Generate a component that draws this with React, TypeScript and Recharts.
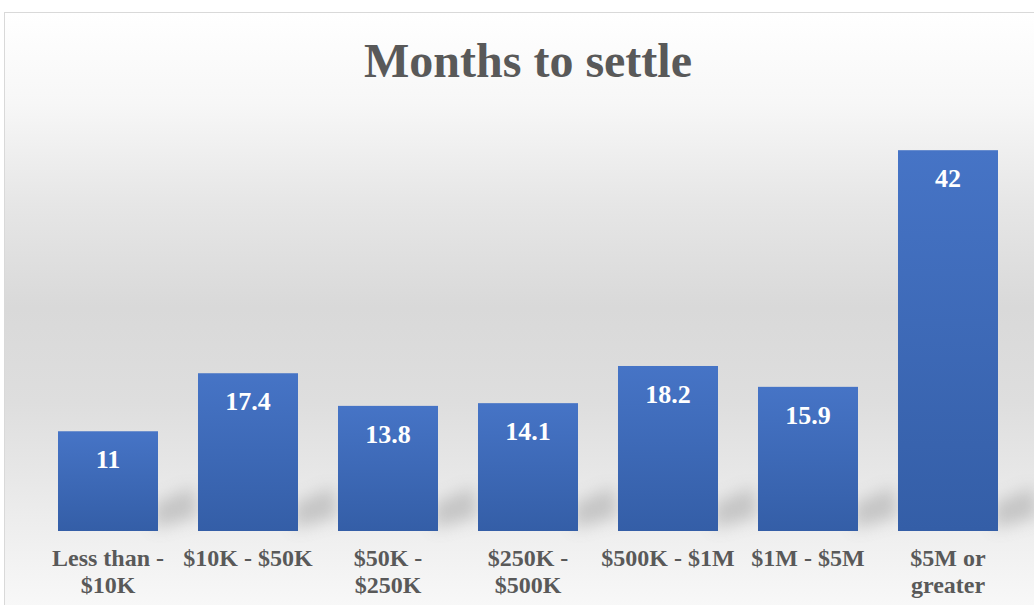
import { BarChart, Bar, XAxis, YAxis, LabelList } from 'recharts';

const categories = [
  'Less than -\n$10K',
  '$10K - $50K',
  '$50K -\n$250K',
  '$250K -\n$500K',
  '$500K - $1M',
  '$1M - $5M',
  '$5M or\ngreater',
];
const months = [11, 17.4, 13.8, 14.1, 18.2, 15.9, 42];

const data = categories.map((name, i) => ({ name, months: months[i] }));

const FONT = '"Liberation Serif", "Times New Roman", serif';

const BarWithShadow = (props: any) => {
  const { x, y, width, height } = props;
  const bx = x + width;
  const by = y + height;
  return (
    <g>
      <polygon
        points={`${bx - 4},${by - 2} ${bx - 4},${by - 28} ${bx + 36},${by - 44} ${bx + 40},${by - 14}`}
        fill="#8c8c8c"
        opacity={0.4}
        filter="url(#shadowBlur)"
      />
      <rect x={x} y={y} width={width} height={height} fill="url(#barGrad)" />
    </g>
  );
};

const ValueLabel = (props: any) => {
  const { x, y, width, value } = props;
  return (
    <text
      x={x + width / 2}
      y={y + 37}
      textAnchor="middle"
      fill="#ffffff"
      fontFamily={FONT}
      fontWeight="bold"
      fontSize={26}
    >
      {value}
    </text>
  );
};

const CategoryTick = (props: any) => {
  const { x, y, payload } = props;
  const lines = String(payload.value).split('\n');
  return (
    <g transform={`translate(${x},${y})`}>
      {lines.map((line, i) => (
        <text
          key={i}
          x={0}
          y={27 + i * 27}
          textAnchor="middle"
          fill="#595959"
          fontFamily={FONT}
          fontWeight="bold"
          fontSize={24}
        >
          {line}
        </text>
      ))}
    </g>
  );
};

export default function App() {
  return (
    <div
      style={{
        position: 'absolute',
        left: 0,
        top: 0,
        width: 1034,
        height: 605,
        overflow: 'hidden',
        background: '#ffffff',
      }}
    >
      <div
        style={{
          position: 'absolute',
          left: 4,
          top: 12,
          width: 1040,
          height: 600,
          border: '1.5px solid #d9d9d9',
          background:
            'linear-gradient(to bottom, #ffffff 0%, #f7f7f7 15%, #e6e6e6 32%, #d9d9d9 49%, #dedede 65%, #ebebeb 82%, #f8f8f8 99%)',
        }}
      >
        <div
          style={{
            position: 'absolute',
            left: 0,
            top: 20,
            width: 1046,
            textAlign: 'center',
            fontFamily: FONT,
            fontWeight: 'bold',
            fontSize: 48,
            color: '#595959',
          }}
        >
          Months to settle
        </div>
        <BarChart
          width={1030}
          height={593}
          data={data}
          margin={{ top: 110, right: 17, bottom: 15, left: 33 }}
          barSize={100}
        >
          <defs>
            <linearGradient id="barGrad" x1="0" y1="0" x2="0" y2="1">
              <stop offset="0%" stopColor="#4674c6" />
              <stop offset="100%" stopColor="#345ea7" />
            </linearGradient>
            <filter id="shadowBlur" x="-50%" y="-50%" width="200%" height="200%">
              <feGaussianBlur stdDeviation="8" />
            </filter>
          </defs>
          <XAxis
            dataKey="name"
            axisLine={false}
            tickLine={false}
            interval={0}
            height={60}
            tick={<CategoryTick />}
          />
          <YAxis hide domain={[0, 45]} />
          <Bar dataKey="months" shape={<BarWithShadow />} isAnimationActive={false}>
            <LabelList dataKey="months" content={<ValueLabel />} />
          </Bar>
        </BarChart>
      </div>
    </div>
  );
}
